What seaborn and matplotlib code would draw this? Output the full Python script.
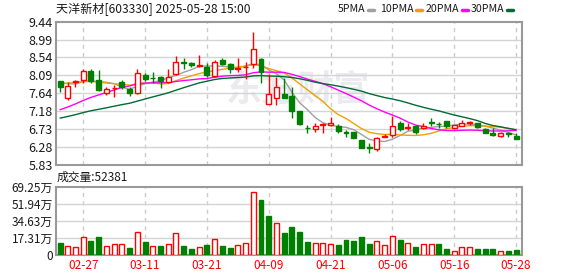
import matplotlib; matplotlib.use('Agg')
import numpy as np
import pandas as pd
import seaborn as sns
import matplotlib.pyplot as plt
from matplotlib.lines import Line2D

# ---- data ----
dates = ['02-24', '02-25', '02-26', '02-27', '02-28', '03-03', '03-04', '03-05', '03-06', '03-07',
         '03-10', '03-11', '03-12', '03-13', '03-14', '03-17', '03-18', '03-19', '03-20', '03-21',
         '03-24', '03-25', '03-26', '03-27', '03-28', '04-07', '04-08', '04-09', '04-10', '04-11',
         '04-14', '04-15', '04-16', '04-17', '04-18', '04-21', '04-22', '04-23', '04-24', '04-25',
         '04-28', '04-29', '04-30', '05-06', '05-07', '05-08', '05-09', '05-12', '05-13', '05-14',
         '05-15', '05-16', '05-19', '05-20', '05-21', '05-22', '05-23', '05-26', '05-27', '05-28']

opens = [7.95, 7.53, 7.92, 7.97, 8.20, 7.97, 7.65, 7.76, 7.91, 7.74,
         7.64, 8.10, 8.02, 8.04, 7.93, 8.12, 8.43, 8.41, 8.33, 8.31,
         8.07, 8.47, 8.37, 8.24, 8.30, 8.37, 8.50, 7.36, 7.51, 7.62,
         7.58, 7.19, 6.76, 6.73, 6.85, 6.85, 6.82, 6.65, 6.66, 6.46,
         6.28, 6.23, 6.54, 6.58, 6.90, 6.77, 6.81, 6.75, 6.91, 6.87,
         6.94, 6.75, 6.81, 6.89, 6.88, 6.73, 6.64, 6.56, 6.64, 6.56]
highs = [7.95, 7.93, 7.97, 8.26, 8.26, 8.22, 7.79, 7.84, 7.97, 7.79,
         8.26, 8.16, 8.18, 8.07, 8.26, 8.58, 8.52, 8.43, 8.60, 8.41,
         8.47, 8.53, 8.39, 8.53, 8.43, 9.17, 8.52, 8.12, 8.05, 8.01,
         7.80, 7.20, 6.84, 6.88, 6.90, 7.05, 6.86, 6.71, 6.67, 6.46,
         6.38, 6.54, 6.60, 7.06, 6.94, 6.90, 6.84, 6.88, 7.01, 6.92,
         6.94, 6.85, 6.96, 6.95, 6.88, 6.77, 6.75, 6.67, 6.66, 6.63]
lows = [7.68, 7.48, 7.80, 7.90, 7.90, 7.70, 7.60, 7.55, 7.74, 7.58,
        7.62, 7.95, 7.90, 7.76, 7.90, 8.10, 8.26, 8.29, 8.31, 8.04,
        8.04, 8.35, 8.16, 8.18, 8.00, 8.27, 7.89, 7.36, 7.34, 7.53,
        7.01, 6.84, 6.63, 6.67, 6.63, 6.80, 6.63, 6.53, 6.51, 6.26,
        6.14, 6.19, 6.53, 6.54, 6.69, 6.70, 6.61, 6.74, 6.81, 6.75,
        6.75, 6.73, 6.81, 6.83, 6.75, 6.63, 6.57, 6.54, 6.54, 6.48]
closes = [7.80, 7.82, 7.95, 8.21, 7.95, 7.72, 7.74, 7.78, 7.79, 7.64,
          8.16, 8.00, 8.01, 7.94, 8.05, 8.42, 8.41, 8.34, 8.35, 8.10,
          8.42, 8.37, 8.24, 8.27, 8.31, 8.75, 8.18, 7.61, 7.80, 7.53,
          7.19, 6.86, 6.75, 6.81, 6.87, 6.88, 6.69, 6.64, 6.52, 6.27,
          6.26, 6.50, 6.56, 6.81, 6.74, 6.79, 6.65, 6.81, 6.89, 6.86,
          6.81, 6.83, 6.90, 6.91, 6.78, 6.63, 6.58, 6.63, 6.62, 6.48]
# closes before the visible window (estimated so the moving averages start where they do)
prior_closes = [6.55, 6.60, 6.62, 6.58, 6.63, 6.60, 6.57, 6.61, 6.59, 6.55,
                6.40, 6.42, 6.45, 6.43, 6.47, 6.50, 6.52, 6.55, 6.85, 7.11,
                7.60, 7.85, 7.95, 7.90, 7.90, 7.95, 7.98, 7.90, 7.89]
# volume in 万 (10k)
volumes = [12.2, 9.1, 8.1, 18.2, 14.2, 18.2, 9.1, 10.8, 10.8, 7.1,
           23.0, 13.2, 9.1, 9.1, 10.8, 22.0, 9.1, 6.1, 7.8, 10.1,
           15.9, 9.1, 7.1, 9.8, 11.8, 64.2, 56.1, 39.5, 32.1, 22.3,
           28.4, 23.3, 13.2, 11.8, 11.8, 10.8, 10.1, 15.2, 14.2, 18.2,
           11.1, 13.9, 9.8, 18.9, 14.9, 11.8, 8.1, 10.8, 10.8, 10.8,
           6.1, 4.4, 7.8, 7.8, 6.1, 6.1, 6.1, 3.7, 4.1, 5.2381]

price_ticks = [5.83, 6.28, 6.73, 7.18, 7.64, 8.09, 8.54, 8.99, 9.44]
vol_ticks = [0, 17.31, 34.63, 51.94, 69.25]
ma_periods = [5, 10, 20, 30]
ma_labels = ['5PMA', '10PMA', '20PMA', '30PMA']

# ---- styling ----
sns.set_theme(style='white')
plt.rcParams['font.family'] = ['Noto Sans CJK SC', 'DejaVu Sans']
RED = '#ff0000'
GREEN = '#008000'
ma_colors = ['#a0a0a0', '#f0a000', '#ff00ff', '#006b35']
GRID = '#d4d4d4'
FRAME = '#999999'
TXT = '#1a1a1a'

n = len(closes)
x = np.arange(n)
df = pd.DataFrame({'open': opens, 'high': highs, 'low': lows, 'close': closes, 'vol': volumes})
all_close = pd.Series(prior_closes + closes)
for p in ma_periods:
    df[f'ma{p}'] = all_close.rolling(p).mean().iloc[-n:].values
prev_close = pd.Series(prior_closes[-1:] + closes[:-1])
df['vol_up'] = df['close'].values >= prev_close.values
df['up'] = df['close'] >= df['open']

W, H = 578, 276
fig = plt.figure(figsize=(W / 100, H / 100), dpi=100)
ax = fig.add_axes([55.7 / W, 1 - 165 / H, (522 - 55.7) / W, (165 - 21.7) / H])
axv = fig.add_axes([55.7 / W, 1 - 255 / H, (522 - 55.7) / W, (255 - 186.7) / H])

xlim = (-0.56, n - 0.23)
date_idx = x[3::8]

for a in (ax, axv):
    a.set_xlim(*xlim)
    for s in a.spines.values():
        s.set_color(FRAME)
        s.set_linewidth(1.5)
    for xi in date_idx:
        a.axvline(xi, color='#cccccc', lw=1, ls=(0, (3, 3)), zorder=0)
    a.tick_params(length=0)

# watermark
ax.text(0.52, 0.52, '东方财富', transform=ax.transAxes, fontsize=26, fontweight='bold',
        color='#ebebef', ha='center', va='center', zorder=0)

# price panel
ax.set_ylim(price_ticks[0], price_ticks[-1])
for t in price_ticks[1:-1]:
    ax.axhline(t, color=GRID, lw=1, zorder=0)
ax.set_yticks(price_ticks)
ax.set_yticklabels([f'{t:.2f}' for t in price_ticks], fontsize=9, color=TXT)
ax.tick_params(axis='y', pad=2)
ax.set_xticks([])

for p, c in zip(ma_periods, ma_colors):
    sns.lineplot(x=x, y=df[f'ma{p}'], ax=ax, color=c, lw=1, zorder=2)

body_w = 0.64
top = np.maximum(df['open'], df['close'])
bot = np.minimum(df['open'], df['close'])
col = np.where(df['up'], RED, GREEN)
ax.vlines(x, top, df['high'], colors=col, lw=1, zorder=3)
ax.vlines(x, df['low'], bot, colors=col, lw=1, zorder=3)
hgt = np.maximum(top - bot, 0.008)
ax.bar(x, hgt, bottom=bot, width=body_w, color=np.where(df['up'], 'white', GREEN),
       edgecolor=col, linewidth=1, zorder=4)
ax.set_ylabel('')
ax.set_xlabel('')

# volume panel
axv.set_ylim(0, vol_ticks[-1])
for t in vol_ticks[1:-1]:
    axv.axhline(t, color=GRID, lw=1, zorder=0)
axv.set_yticks(vol_ticks)
axv.set_yticklabels(['0'] + [f'{t:.2f}万' for t in vol_ticks[1:]], fontsize=8.5, color=TXT)
axv.tick_params(axis='y', pad=2)
vcol = np.where(df['vol_up'], RED, GREEN)
axv.bar(x, df['vol'], width=body_w, color=np.where(df['vol_up'], 'white', GREEN),
        edgecolor=vcol, linewidth=1, zorder=3)
axv.set_xticks(date_idx)
axv.set_xticklabels([dates[i] for i in date_idx], fontsize=8.5, color=RED)
axv.tick_params(axis='x', pad=3)

# header texts
fig.text(56 / W, 1 - 9 / H, '天洋新材[603330] 2025-05-28 15:00', fontsize=8.7, color=TXT,
         ha='left', va='center')
renderer = fig.canvas.get_renderer()
leg_x = [338, 380, 426, 471]
for lab, lx, c in zip(ma_labels, leg_x, ma_colors):
    t = fig.text(lx / W, 1 - 9 / H, lab, fontsize=7.6, color=TXT, ha='left', va='center')
    bx = t.get_window_extent(renderer).x1 + 2
    fig.add_artist(Line2D([bx / W, (bx + 6) / W], [1 - 10 / H, 1 - 10 / H], color=c, lw=2.5,
                          transform=fig.transFigure))
fig.text(57 / W, 1 - 177 / H, f'成交量:{int(round(volumes[-1] * 10000))}', fontsize=8.5,
         color=TXT, ha='left', va='center')

fig.savefig('out.png', dpi=100, facecolor='white')
plt.close(fig)
